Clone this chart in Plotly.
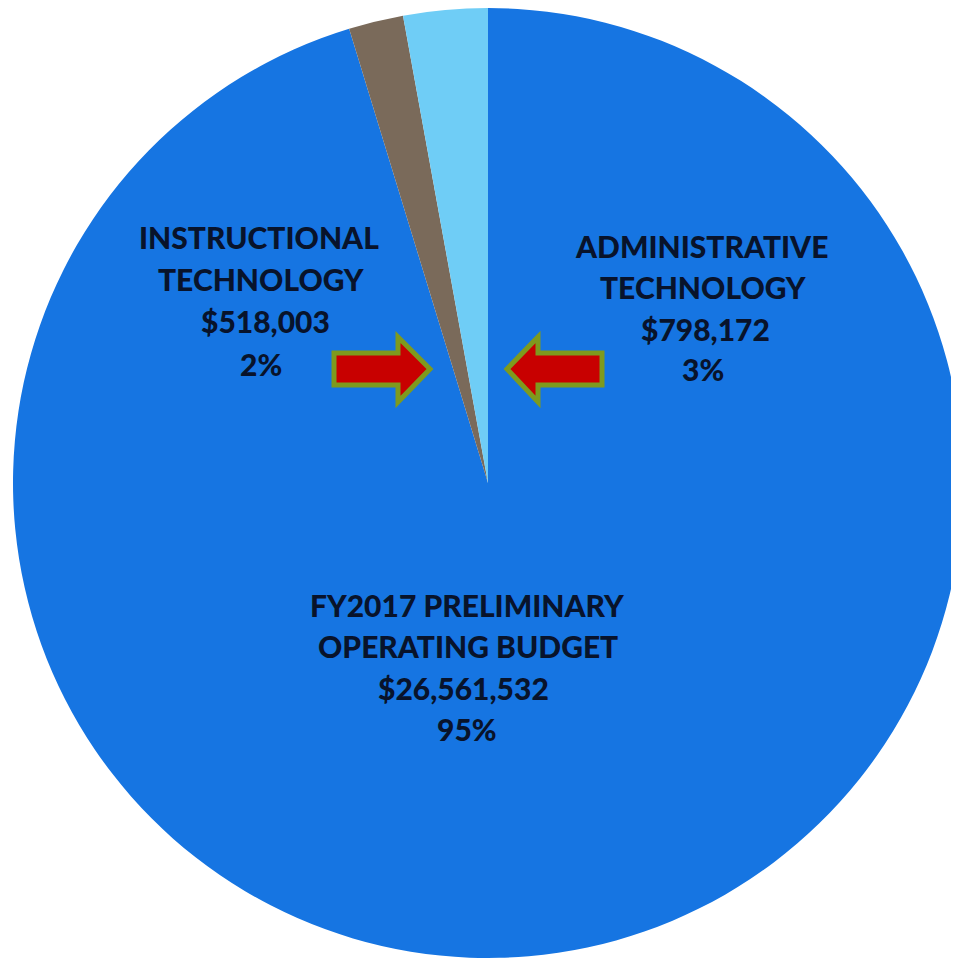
import plotly.graph_objects as go

# ---- data ----
categories = ["FY2017 PRELIMINARY OPERATING BUDGET",
              "INSTRUCTIONAL TECHNOLOGY",
              "ADMINISTRATIVE TECHNOLOGY"]
label_line1 = ["FY2017 PRELIMINARY", "INSTRUCTIONAL", "ADMINISTRATIVE"]
label_line2 = ["OPERATING BUDGET", "TECHNOLOGY", "TECHNOLOGY"]
values = [26561532, 518003, 798172]
colors = ["#1675E2", "#7A6A5A", "#6FCDF6"]

W, H = 959, 961
OFF = 8  # default page body margin
total = sum(values)

def px(x):
    return (x - OFF) / W

def py(y):
    return 1 - (y - OFF) / H

cx, cy, r = 488, 483, 475
fig = go.Figure(go.Pie(
    labels=categories,
    values=values,
    sort=False,
    direction="clockwise",
    rotation=0,
    marker=dict(colors=colors, line=dict(width=0)),
    textinfo="none",
    hoverinfo="label+value+percent",
    showlegend=False,
    domain=dict(x=[px(cx - r), min(1.0, px(cx + r))],
                y=[max(0.0, py(cy + r)), min(1.0, py(cy - r))]),
))

# label block positions (pixel centres of each line of text), per category
block_x = [[467, 468, 463, 467], [259, 261, 265, 261], [701, 703, 705, 703]]
block_y = [[603, 644, 686, 727], [235, 277, 319, 362], [244, 285, 327, 367]]

font = dict(family="Lato", size=30, color="#08132B", weight=900)
for i, cat in enumerate(categories):
    lines = [label_line1[i], label_line2[i],
             "${:,}".format(values[i]),
             "{:d}%".format(round(values[i] / total * 100))]
    for j, txt in enumerate(lines):
        fig.add_annotation(
            x=px(block_x[i][j]), y=py(block_y[i][j] + 2),
            xref="paper", yref="paper",
            text=txt, showarrow=False,
            xanchor="center", yanchor="middle", font=font,
        )

# decorative block arrows (pixel geometry -> paper)
def P(x, y):
    return "{:.5f},{:.5f}".format(px(x), py(y))

right_arrow = [(334, 353), (398, 353), (398, 337), (430, 369),
               (398, 402), (398, 385), (334, 385)]
left_arrow = [(602, 353), (538, 353), (538, 337), (507, 369),
              (538, 402), (538, 385), (602, 385)]
for pts in (right_arrow, left_arrow):
    path = "M " + " L ".join(P(x, y) for x, y in pts) + " Z"
    fig.add_shape(type="path", path=path, xref="paper", yref="paper",
                  fillcolor="#C80000", line=dict(color="#7E9A1E", width=5))

fig.update_layout(
    width=W, height=H,
    margin=dict(l=0, r=0, t=0, b=0),
    paper_bgcolor="white", plot_bgcolor="white",
)

fig.write_html("out.html")
